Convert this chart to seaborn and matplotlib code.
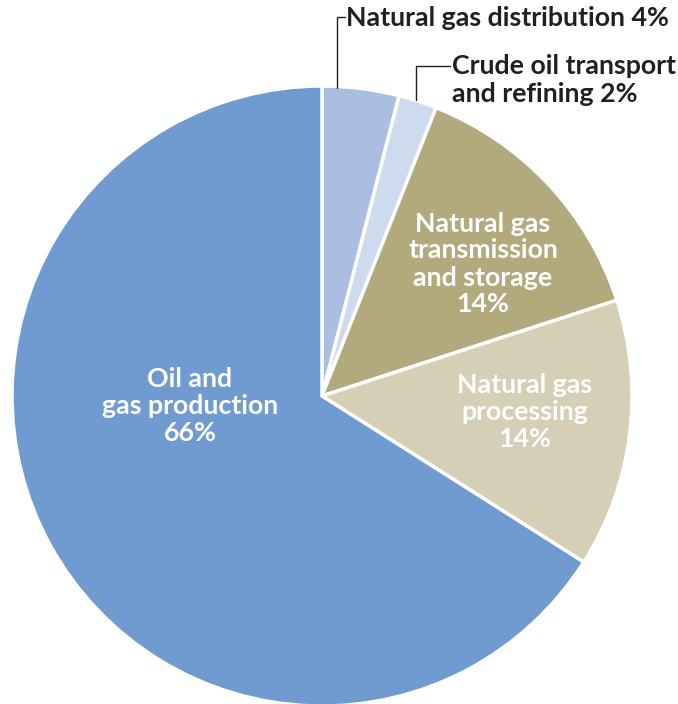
import matplotlib
matplotlib.use("Agg")
import matplotlib.pyplot as plt
import seaborn as sns

# slices, clockwise from 12 o'clock
sectors = ["Natural gas distribution", "Crude oil transport and refining",
           "Natural gas transmission and storage", "Natural gas processing",
           "Oil and gas production"]
shares = [4, 2, 14, 14, 66]
colors = ["#a9bee0", "#cedaee", "#b2a97c", "#d5cfb6", "#709bd1"]

sns.set_theme(style="white")
plt.rcParams['font.family'] = ['Lato', 'DejaVu Sans']

fig = plt.figure(figsize=(6.78, 7.04), dpi=100)
ax = fig.add_axes([0, 0, 1, 1])

H = 704
cx, cy, r = 322, H - 396, 310

ax.pie(shares, colors=colors, startangle=90, counterclock=False,
       center=(cx, cy), radius=r, frame=True,
       wedgeprops=dict(edgecolor="white", linewidth=2.5))
ax.set_xlim(0, 678)
ax.set_ylim(0, 704)
ax.set_aspect("equal")
ax.axis("off")

fs = 19.3
inside = dict(color="white", fontsize=fs, fontweight="bold", ha="center",
              va="center", linespacing=1.15)
ax.text(190, H - 406, "Oil and\ngas production\n%d%%" % shares[4], **inside)
ax.text(483, H - 264, "Natural gas\ntransmission\nand storage\n%d%%" % shares[2], **inside)
ax.text(525, H - 412, "Natural gas\nprocessing\n%d%%" % shares[3], **inside)

outside = dict(color="#231f20", fontsize=fs, fontweight="bold", ha="left",
               va="center", linespacing=1.15)
ax.text(346, H - 18, "Natural gas distribution %d%%" % shares[0], **outside)
ax.text(452, H - 80, "Crude oil transport\nand refining %d%%" % shares[1], **outside)

# leader lines
ax.plot([337, 337, 345], [H - 88, H - 17, H - 17], color="#231f20", lw=1)
ax.plot([416, 416, 450], [H - 100, H - 66, H - 66], color="#231f20", lw=1)

fig.savefig("out.png", dpi=100)
